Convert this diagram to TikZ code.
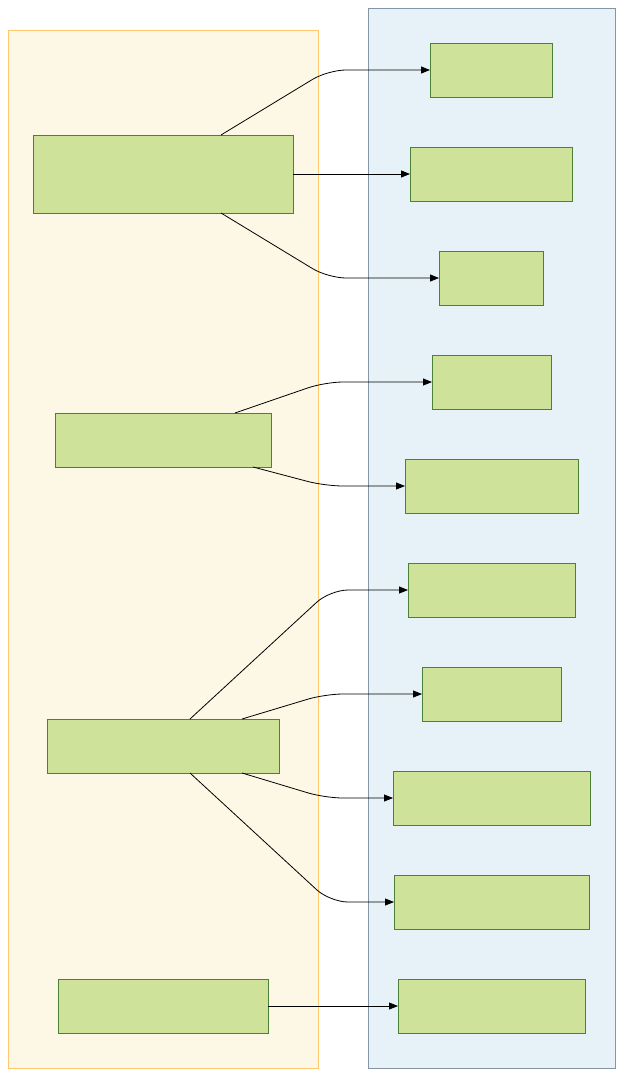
\documentclass[tikz,border=0pt]{standalone}
\usetikzlibrary{arrows.meta}
\definecolor{laneA}{HTML}{FDF7E6}
\definecolor{laneAline}{HTML}{FFC86E}
\definecolor{laneB}{HTML}{E7F2F8}
\definecolor{laneBline}{HTML}{8495A5}
\definecolor{boxfill}{HTML}{CFE29A}
\definecolor{boxline}{HTML}{4C8036}
\tikzset{
  lane/.style={line width=1pt},
  box/.style={draw=boxline, fill=boxfill, line width=0.9pt, rectangle,
              inner sep=0pt, outer sep=0pt},
  edge/.style={draw=black, line width=0.8pt, rounded corners=18pt,
               -{Triangle[length=9pt,width=7pt]}},
}
\begin{document}
\begin{tikzpicture}[x=1pt,y=-1pt]
  \useasboundingbox (0,0) rectangle (623,1076);
  % lanes
  \draw[lane, draw=laneAline, fill=laneA] (8,30) rectangle (318,1068);
  \draw[lane, draw=laneBline, fill=laneB] (368,8) rectangle (615,1068);

  % left column
  \node[box, minimum width=260pt, minimum height=78pt] (L1) at (163,174) {};
  \node[box, minimum width=216pt, minimum height=54pt] (L2) at (163,440) {};
  \node[box, minimum width=232pt, minimum height=54pt] (L3) at (163,746) {};
  \node[box, minimum width=210pt, minimum height=54pt] (L4) at (163,1006) {};

  % right column
  \node[box, minimum width=122pt, minimum height=54pt] (R1) at (491,70) {};
  \node[box, minimum width=162pt, minimum height=54pt] (R2) at (491,174) {};
  \node[box, minimum width=104pt, minimum height=54pt] (R3) at (491,278) {};
  \node[box, minimum width=119pt, minimum height=54pt] (R4) at (491.5,382) {};
  \node[box, minimum width=173pt, minimum height=54pt] (R5) at (491.5,486) {};
  \node[box, minimum width=167pt, minimum height=54pt] (R6) at (491.5,590) {};
  \node[box, minimum width=139pt, minimum height=54pt] (R7) at (491.5,694) {};
  \node[box, minimum width=197pt, minimum height=54pt] (R8) at (491.5,798) {};
  \node[box, minimum width=195pt, minimum height=54pt] (R9) at (491.5,902) {};
  \node[box, minimum width=187pt, minimum height=54pt] (R10) at (491.5,1006) {};

  % connectors
  \draw[edge] ([xshift=58pt]L1.north) -- (328,70) -- (R1.west);
  \draw[edge] (L1.east) -- (R2.west);
  \draw[edge] ([xshift=58pt]L1.south) -- (328,278) -- (R3.west);

  \draw[edge] ([xshift=72pt]L2.north) -- (325,382) -- (R4.west);
  \draw[edge] ([xshift=90pt]L2.south) -- (325,486) -- (R5.west);

  \draw[edge] ([xshift=27pt]L3.north) -- (330,590) -- (R6.west);
  \draw[edge] ([xshift=79pt]L3.north) -- (325,694) -- (R7.west);
  \draw[edge] ([xshift=79pt]L3.south) -- (325,798) -- (R8.west);
  \draw[edge] ([xshift=27pt]L3.south) -- (330,902) -- (R9.west);

  \draw[edge] (L4.east) -- (R10.west);
\end{tikzpicture}
\end{document}
